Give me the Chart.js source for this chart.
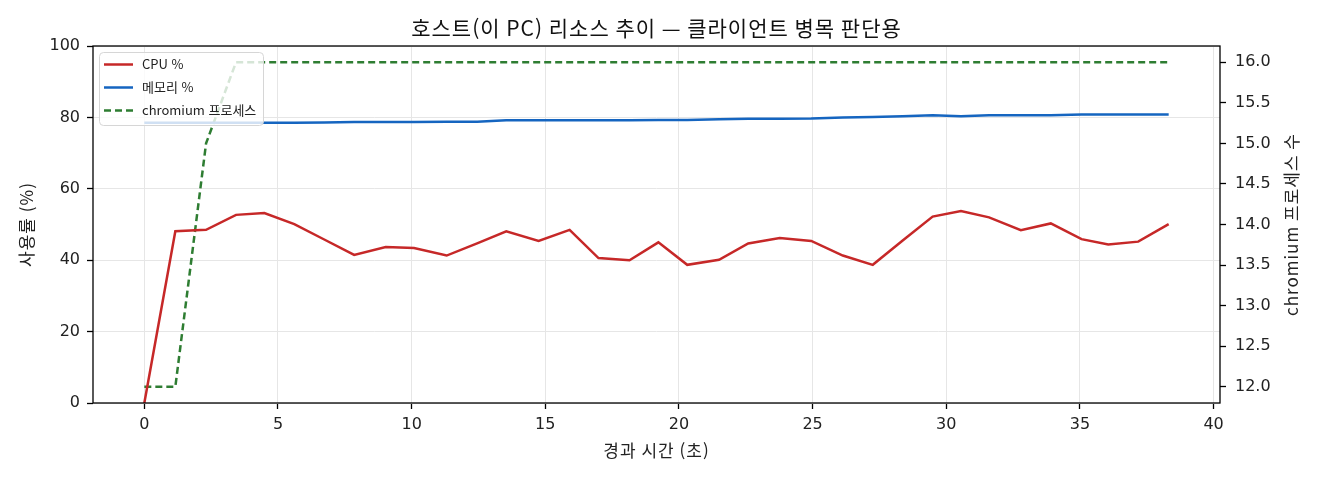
<!DOCTYPE html>
<html lang="ko">
<head>
<meta charset="utf-8">
<title>호스트 리소스 추이</title>
<script src="https://cdn.jsdelivr.net/npm/chart.js@4.4.1/dist/chart.umd.min.js"></script>
<style>
  html, body { margin: 0; padding: 0; background: #fff; }
  #wrap { width: 1320px; height: 480px; }
</style>
</head>
<body>
<div id="wrap"><canvas id="chart" width="1320" height="480"></canvas></div>
<script>
// elapsed seconds of each sample
const times = [0, 1.16, 2.31, 3.43, 4.49, 5.61, 6.73, 7.85, 9.03, 10.09, 11.31, 12.45, 13.54, 14.75, 15.91,
  16.99, 18.15, 19.23, 20.31, 21.50, 22.59, 23.77, 24.95, 26.13, 27.25, 28.37, 29.49, 30.55, 31.60, 32.79,
  33.91, 35.06, 36.06, 37.18, 38.32];

const cpu = [0, 48.1, 48.5, 52.7, 53.2, 50.1, 45.8, 41.5, 43.7, 43.4, 41.3, 44.7, 48.1, 45.4, 48.5,
  40.6, 40.0, 45.0, 38.7, 40.1, 44.7, 46.2, 45.4, 41.3, 38.7, 45.5, 52.2, 53.8, 52.0, 48.4,
  50.3, 45.9, 44.4, 45.2, 50.1];

const memory = [78.5, 78.5, 78.5, 78.5, 78.5, 78.5, 78.6, 78.7, 78.7, 78.7, 78.8, 78.8, 79.2, 79.2, 79.2,
  79.2, 79.2, 79.3, 79.3, 79.5, 79.6, 79.6, 79.7, 80.0, 80.1, 80.3, 80.6, 80.3, 80.6, 80.6,
  80.6, 80.8, 80.8, 80.8, 80.8];

const procs = [12, 12, 15, 16, 16, 16, 16, 16, 16, 16, 16, 16, 16, 16, 16,
  16, 16, 16, 16, 16, 16, 16, 16, 16, 16, 16, 16, 16, 16, 16,
  16, 16, 16, 16, 16];

const xTicks = [0, 5, 10, 15, 20, 25, 30, 35, 40];
const yTicks = [0, 20, 40, 60, 80, 100];
const y2Ticks = [12, 12.5, 13, 13.5, 14, 14.5, 15, 15.5, 16];

const labels = ['CPU %', '메모리 %', 'chromium 프로세스'];
const title = '호스트(이 PC) 리소스 추이 — 클라이언트 병목 판단용';
const xTitle = '경과 시간 (초)';
const yTitle = '사용률 (%)';
const y2Title = 'chromium 프로세스 수';

const FONT = "'Noto Sans CJK KR', 'Noto Sans', sans-serif";
const TICK_FONT = "'DejaVu Sans', 'Noto Sans CJK KR', sans-serif";
const colors = ['#c62828', '#1565c0', '#2e7d32'];
const dash = [7, 4];

const points = (values) => values.map((y, i) => ({ x: times[i], y }));
const fixTicks = (list) => (scale) => { scale.ticks = list.map(value => ({ value })); };

// title, axis titles, frame and the in-plot legend, drawn the matplotlib way
const decorations = {
  id: 'decorations',
  afterDatasetsDraw(chart) {
    const { ctx, chartArea: a } = chart;
    ctx.save();

    ctx.strokeStyle = '#000';
    ctx.lineWidth = 1.3;
    ctx.strokeRect(a.left, a.top, a.right - a.left, a.bottom - a.top);

    // legend
    const lx = 99, ly = 52, lw = 164, lh = 73;
    ctx.beginPath();
    ctx.roundRect(lx + 0.5, ly + 0.5, lw, lh, 4);
    ctx.fillStyle = 'rgba(255,255,255,0.8)';
    ctx.fill();
    ctx.strokeStyle = '#d6d6d6';
    ctx.lineWidth = 1;
    ctx.stroke();

    ctx.font = `13px ${FONT}`;
    ctx.textBaseline = 'middle';
    ctx.textAlign = 'left';
    labels.forEach((text, i) => {
      const y = 64.5 + i * 23;
      ctx.beginPath();
      ctx.setLineDash(i == 2 ? dash : []);
      ctx.strokeStyle = colors[i];
      ctx.lineWidth = 2.5;
      ctx.moveTo(104, y);
      ctx.lineTo(133, y);
      ctx.stroke();
      ctx.setLineDash([]);
      ctx.fillStyle = '#222';
      ctx.fillText(text, 142, y);
    });

    ctx.fillStyle = '#111';
    ctx.textAlign = 'center';
    ctx.font = `21px ${FONT}`;
    ctx.letterSpacing = '1px';
    ctx.fillText(title, (a.left + a.right) / 2, 28);

    ctx.font = `17px ${FONT}`;
    ctx.letterSpacing = '1px';
    ctx.fillStyle = '#222';
    ctx.fillText(xTitle, (a.left + a.right) / 2, 451);

    const cy = (a.top + a.bottom) / 2;
    ctx.translate(27, cy);
    ctx.rotate(-Math.PI / 2);
    ctx.fillText(yTitle, 0, 0);
    ctx.rotate(Math.PI / 2);
    ctx.translate(1292 - 27, 0);
    ctx.rotate(-Math.PI / 2);
    ctx.fillText(y2Title, 0, 0);

    ctx.restore();
  }
};

const tickFont = { family: TICK_FONT, size: 16 };

const options = {
  responsive: false,
  animation: false,
  devicePixelRatio: 1,
  layout: { padding: { top: 46, left: 0, right: 0, bottom: 0 } },
  elements: { point: { radius: 0 }, line: { tension: 0, borderWidth: 2.5 } },
  plugins: { legend: { display: false }, title: { display: false }, tooltip: { enabled: false } },
  scales: {
    x: {
      type: 'linear', min: -1.92, max: 40.24,
      afterBuildTicks: fixTicks(xTicks),
      afterFit: (scale) => { scale.height = 77; },
      border: { display: false },
      grid: { color: '#e6e6e6', lineWidth: 1, tickColor: '#000', tickWidth: 1.3, tickLength: 6 },
      ticks: { font: tickFont, color: '#222', padding: 6, maxRotation: 0 },
    },
    y: {
      position: 'left', min: 0, max: 100,
      afterBuildTicks: fixTicks(yTicks),
      afterFit: (scale) => { scale.width = 93; },
      border: { display: false },
      grid: { color: '#e6e6e6', lineWidth: 1, tickColor: '#000', tickWidth: 1.3, tickLength: 6 },
      ticks: { font: tickFont, color: '#222', padding: 7 },
    },
    y2: {
      position: 'right', min: 11.8, max: 16.2,
      afterBuildTicks: fixTicks(y2Ticks),
      afterFit: (scale) => { scale.width = 100; },
      border: { display: false },
      grid: { drawOnChartArea: false, tickColor: '#000', tickWidth: 1.3, tickLength: 6 },
      ticks: { font: tickFont, color: '#222', padding: 9, callback: (v) => v.toFixed(1) },
    },
  },
};

const data = {
  datasets: [
    { label: labels[0], data: points(cpu), borderColor: colors[0], yAxisID: 'y' },
    { label: labels[1], data: points(memory), borderColor: colors[1], yAxisID: 'y' },
    { label: labels[2], data: points(procs), borderColor: colors[2], borderDash: dash, yAxisID: 'y2' },
  ],
};

new Chart(document.getElementById('chart'), { type: 'line', data, options, plugins: [decorations] });
</script>
</body>
</html>
